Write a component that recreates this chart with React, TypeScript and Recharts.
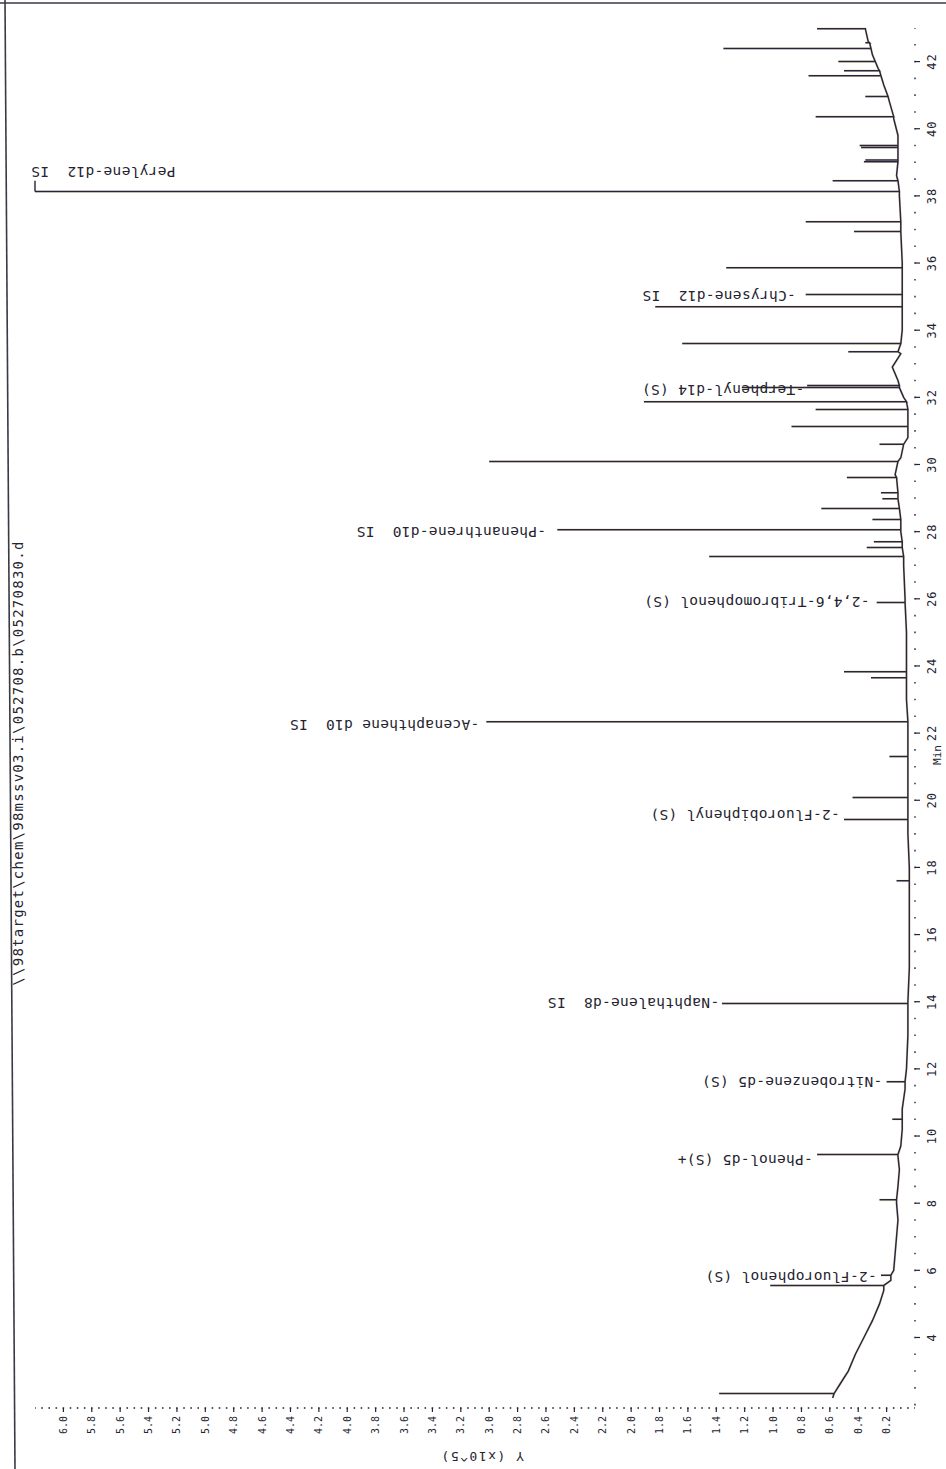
import { ComposedChart, Line, Scatter, XAxis, YAxis, ReferenceLine } from 'recharts';

// baseline drift of the TIC (minutes, Y x10^5)
const baseTimes = [2.2, 2.6, 3.0, 3.5, 4.0, 4.5, 5.0, 5.4, 5.7, 6.0, 6.5, 7.0, 7.5, 8.0, 8.5, 9.0, 9.4, 9.7, 10.2, 10.8, 11.4, 12, 13, 14, 15, 16, 17, 18, 19, 20, 21, 22, 23, 24, 25, 26, 27, 28, 29, 29.7, 30.2, 30.8, 31.5, 32, 32.5, 32.9, 33.3, 34, 35, 36, 37, 38, 38.6, 39.2, 39.8, 40.3, 40.8, 41.3, 41.8, 42.2, 42.6, 43.0];
const baseValues = [0.58, 0.53, 0.47, 0.42, 0.36, 0.30, 0.25, 0.22, 0.17, 0.15, 0.14, 0.13, 0.12, 0.13, 0.12, 0.11, 0.12, 0.10, 0.09, 0.09, 0.07, 0.06, 0.05, 0.05, 0.04, 0.04, 0.04, 0.04, 0.05, 0.05, 0.05, 0.05, 0.06, 0.06, 0.06, 0.07, 0.08, 0.10, 0.12, 0.14, 0.10, 0.05, 0.05, 0.08, 0.12, 0.16, 0.10, 0.09, 0.09, 0.09, 0.10, 0.11, 0.13, 0.12, 0.12, 0.15, 0.18, 0.22, 0.26, 0.30, 0.33, 0.35];

// peaks: retention time, apex, foot
const peakTimes = [2.33, 5.55, 5.85, 8.1, 9.45, 10.5, 11.62, 13.95, 17.6, 19.43, 20.08, 21.3, 22.34, 23.65, 23.83, 25.89, 27.26, 27.53, 27.7, 28.06, 28.36, 28.69, 28.98, 29.16, 29.61, 30.09, 30.6, 31.13, 31.64, 31.87, 32.29, 32.35, 33.36, 33.6, 34.7, 35.06, 35.86, 36.94, 37.23, 38.13, 38.45, 39.02, 39.07, 39.44, 39.5, 40.36, 40.96, 41.58, 41.73, 42.0, 42.39, 42.56, 42.98];
const peakTops = [1.38, 1.02, 0.24, 0.25, 0.69, 0.16, 0.20, 1.36, 0.13, 0.50, 0.44, 0.18, 3.02, 0.31, 0.50, 0.27, 1.45, 0.34, 0.29, 2.52, 0.30, 0.66, 0.23, 0.24, 0.48, 3.00, 0.25, 0.87, 0.70, 1.91, 1.22, 0.76, 0.47, 1.64, 1.83, 0.77, 1.33, 0.43, 0.77, 6.2, 0.58, 0.36, 0.35, 0.38, 0.39, 0.70, 0.35, 0.75, 0.50, 0.54, 1.35, 0.35, 0.69];
const peakFeet = [0.57, 0.22, 0.17, 0.13, 0.12, 0.09, 0.07, 0.05, 0.04, 0.05, 0.05, 0.05, 0.05, 0.06, 0.06, 0.07, 0.08, 0.09, 0.09, 0.10, 0.10, 0.11, 0.12, 0.12, 0.13, 0.12, 0.08, 0.05, 0.05, 0.06, 0.11, 0.11, 0.12, 0.10, 0.09, 0.09, 0.09, 0.10, 0.10, 0.11, 0.12, 0.12, 0.12, 0.12, 0.12, 0.15, 0.19, 0.24, 0.25, 0.28, 0.31, 0.32, 0.35];

// compound labels: time, height where the text starts, name
const labelTimes = [5.8, 9.3, 11.6, 13.97, 19.57, 22.25, 25.9, 27.98, 32.23, 35.03, 38.72];
const labelStarts = [0.27, 0.72, 0.23, 1.38, 0.53, 3.07, 0.32, 2.6, 0.78, 0.84, 5.21];
const labelNames = [
  '-2-Fluorophenol (S)',
  '-Phenol-d5 (S)+',
  '-Nitrobenzene-d5 (S)',
  '-Naphthalene-d8  IS',
  '-2-Fluorobiphenyl (S)',
  '-Acenaphthene d10  IS',
  '-2,4,6-Tribromophenol (S)',
  '-Phenanthrene-d10  IS',
  '-Terphenyl-d14 (S)',
  '-Chrysene-d12  IS',
  'Perylene-d12  IS',
];

const timeTicks = [4, 6, 8, 10, 12, 14, 16, 18, 20, 22, 24, 26, 28, 30, 32, 34, 36, 38, 40, 42];
const valueTicks = [0.2, 0.4, 0.6, 0.8, 1.0, 1.2, 1.4, 1.6, 1.8, 2.0, 2.2, 2.4, 2.6, 2.8, 3.0, 3.2, 3.4, 3.6, 3.8, 4.0, 4.2, 4.4, 4.6, 4.8, 5.0, 5.2, 5.4, 5.6, 5.8, 6.0];

const TITLE = '\\\\98target\\chem\\98mssv03.i\\052708.b\\05270830.d';

const trace = [
  ...baseTimes.map((t, i) => ({ t, y: baseValues[i], k: 0 })),
  ...peakTimes.flatMap((t, i) => [
    { t, y: peakFeet[i], k: 1 },
    { t, y: peakTops[i], k: 2 },
    { t, y: peakFeet[i], k: 3 },
  ]),
].sort((a, b) => a.t - b.t || a.k - b.k);

const labelRows = labelTimes.map((t, i) => ({ t, v: labelStarts[i], name: labelNames[i] }));

// the printout is scanned sideways: chart drawn landscape, then turned
const W = 1469;
const H = 946;
const M = { top: 35, right: 28, bottom: 0, left: 0 };
const Y_W = 61;
const X_H = 31;
const T0 = 1.9;
const T1 = 43;
const V1 = 6.2;
const plotW = W - M.left - M.right - Y_W;
const plotH = H - M.top - M.bottom - X_H;
const minPx = plotW / (T1 - T0);
const valPx = plotH / V1;
const timeDot = 0.5 * minPx;
const timeOffset = timeDot - ((2.0 - T0) * minPx - 0.8);
const valueDot = 0.05 * valPx;

const ink = '#25232f';
const mono = '"DejaVu Sans Mono", monospace';

function TimeTick({ x, y, payload }: any) {
  return (
    <g>
      <line x1={x} x2={x} y1={y} y2={y + 5} stroke={ink} strokeWidth={1.2} />
      <text x={x} y={y + 17} textAnchor="middle" dominantBaseline="central" fontFamily={mono} fontSize={12} letterSpacing={1} fill={ink}>
        {payload.value}
      </text>
    </g>
  );
}

function ValueTick({ x, y, payload }: any) {
  return (
    <g>
      <line x1={x - 4} x2={x} y1={y} y2={y} stroke={ink} strokeWidth={1.2} />
      <text x={x - 8} y={y} textAnchor="end" dominantBaseline="central" fontFamily={mono} fontSize={10} fill={ink}>
        {Number(payload.value).toFixed(1)}
      </text>
    </g>
  );
}

function PeakName(props: any) {
  const { cx, cy, payload } = props;
  return (
    <text
      x={cx}
      y={cy}
      transform={`rotate(-90 ${cx} ${cy})`}
      textAnchor="start"
      dominantBaseline="central"
      fontFamily={mono}
      fontSize={14.5}
      letterSpacing={0.3}
      fill={ink}
      style={{ whiteSpace: 'pre' }}
    >
      {payload.name}
    </text>
  );
}

export default function App() {
  return (
    <div style={{ position: 'absolute', left: 0, top: 0, width: H, height: W, overflow: 'hidden', background: '#fff' }}>
      <div
        style={{
          position: 'absolute',
          left: 0,
          top: 0,
          width: W,
          height: H,
          transformOrigin: '0 0',
          transform: `translateY(${W}px) rotate(-90deg)`,
        }}
      >
        <ComposedChart width={W} height={H} margin={M}>
          <XAxis
            type="number"
            dataKey="t"
            domain={[T0, T1]}
            ticks={timeTicks}
            interval={0}
            height={X_H}
            tickSize={0}
            tickMargin={0}
            tickLine={false}
            tick={<TimeTick />}
            axisLine={{ stroke: ink, strokeWidth: 1.4, strokeDasharray: `1.6 ${timeDot - 1.6}`, strokeDashoffset: timeOffset }}
          />
          <YAxis
            type="number"
            domain={[0, V1]}
            ticks={valueTicks}
            interval={0}
            width={Y_W}
            tickSize={0}
            tickMargin={0}
            tickLine={false}
            tick={<ValueTick />}
            axisLine={{ stroke: ink, strokeWidth: 1.4, strokeDasharray: `1.6 ${valueDot - 1.6}`, strokeDashoffset: 0.8 }}
          />
          <Line data={trace} dataKey="y" type="linear" stroke="#c9b94a" strokeOpacity={0.28} strokeWidth={2.6} dot={false} isAnimationActive={false} />
          <Line data={trace} dataKey="y" type="linear" stroke="#2b2440" strokeWidth={1.5} dot={false} isAnimationActive={false} />
          <ReferenceLine
            segment={[
              { x: 38.13, y: V1 },
              { x: 38.45, y: V1 },
            ]}
            stroke={ink}
            strokeWidth={1.4}
            ifOverflow="visible"
          />
          <Scatter data={labelRows} dataKey="v" shape={PeakName} isAnimationActive={false} />
        </ComposedChart>

        <div
          style={{
            position: 'absolute',
            left: 0,
            top: 10,
            width: 1412,
            textAlign: 'center',
            fontFamily: mono,
            fontSize: 14,
            letterSpacing: 1.25,
            color: ink,
            whiteSpace: 'pre',
          }}
        >
          {TITLE}
        </div>
        <div
          style={{
            position: 'absolute',
            left: 13 - 70,
            top: 482 - 9,
            width: 140,
            height: 18,
            lineHeight: '18px',
            textAlign: 'center',
            transform: 'rotate(-90deg)',
            fontFamily: mono,
            fontSize: 13,
            letterSpacing: 1.5,
            color: ink,
          }}
        >
          Y (x10^5)
        </div>
        <div
          style={{
            position: 'absolute',
            left: 714 - 20,
            top: 931,
            width: 40,
            lineHeight: '13px',
            textAlign: 'center',
            fontFamily: mono,
            fontSize: 11,
            color: ink,
          }}
        >
          Min
        </div>
      </div>
      <svg width={H} height={W} style={{ position: 'absolute', left: 0, top: 0, pointerEvents: 'none' }}>
        <line x1={0} x2={H} y1={3} y2={3} stroke="#3a3a44" strokeWidth={1.6} />
        <line x1={5} x2={15} y1={0} y2={W} stroke="#3a3a44" strokeWidth={1.6} />
      </svg>
    </div>
  );
}
